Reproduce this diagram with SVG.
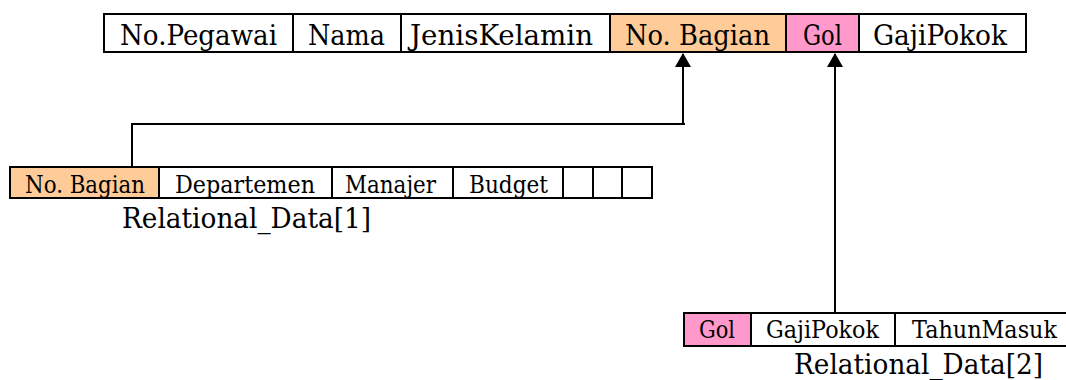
<svg xmlns="http://www.w3.org/2000/svg" width="1066" height="380" viewBox="0 0 1066 380">
  <style>
    .cell { fill: #ffffff; stroke: #000000; stroke-width: 2; }
    .key1 { fill: #FFCC99; }
    .key2 { fill: #FF99CC; }
    .edge { fill: none; stroke: #000000; stroke-width: 2; }
    .t { font-family: "DejaVu Serif", "Liberation Serif", serif; fill: #000000; text-anchor: middle; }
    .big { font-size: 28px; }
    .small { font-size: 25px; }
    .tight { font-size: 24px; }
    .label { font-size: 27px; }
    .conn { fill: none; stroke: #000000; stroke-width: 2; }
  </style>
  <defs>
    <marker id="arrow" viewBox="0 0 14 16" refX="13" refY="8" markerWidth="14" markerHeight="16" markerUnits="userSpaceOnUse" orient="auto">
      <path d="M0,0 L14,8 L0,16 Z" fill="#000000"/>
    </marker>
  </defs>
  <rect width="1066" height="380" fill="#ffffff"/>

  <g id="pegawai">
    <rect class="cell" x="104" y="14" width="189" height="38"/>
    <rect class="cell" x="293" y="14" width="108" height="38"/>
    <rect class="cell" x="401" y="14" width="209" height="38"/>
    <rect class="cell key1" x="610" y="14" width="176" height="38"/>
    <rect class="cell key2" x="786" y="14" width="73" height="38"/>
    <rect class="cell" x="859" y="14" width="167" height="38"/>
    <text class="t big" x="198.5" y="45" textLength="157" lengthAdjust="spacingAndGlyphs">No.Pegawai</text>
    <text class="t big" x="346.5" y="45" textLength="77" lengthAdjust="spacingAndGlyphs">Nama</text>
    <text class="t big" x="501.5" y="45" textLength="183" lengthAdjust="spacingAndGlyphs">JenisKelamin</text>
    <text class="t big" x="697.5" y="45" textLength="145" lengthAdjust="spacingAndGlyphs">No. Bagian</text>
    <text class="t big" x="822.5" y="45" textLength="39" lengthAdjust="spacingAndGlyphs">Gol</text>
    <text class="t big" x="940" y="45" textLength="134" lengthAdjust="spacingAndGlyphs">GajiPokok</text>
  </g>

  <g id="relational1">
    <rect class="cell key1" x="10" y="167" width="149" height="31"/>
    <rect class="cell" x="159" y="167" width="173" height="31"/>
    <rect class="cell" x="332" y="167" width="121" height="31"/>
    <rect class="cell" x="453" y="167" width="110" height="31"/>
    <rect class="cell" x="563" y="167" width="30" height="31"/>
    <rect class="cell" x="593" y="167" width="29" height="31"/>
    <rect class="cell" x="622" y="167" width="30" height="31"/>
    <text class="t small" x="85" y="193" textLength="120" lengthAdjust="spacingAndGlyphs">No. Bagian</text>
    <text class="t small" x="245" y="193" textLength="140" lengthAdjust="spacingAndGlyphs">Departemen</text>
    <text class="t small" x="390.5" y="193" textLength="91" lengthAdjust="spacingAndGlyphs">Manajer</text>
    <text class="t small" x="508.5" y="193" textLength="79" lengthAdjust="spacingAndGlyphs">Budget</text>
    <text class="t label" x="246.5" y="228" textLength="249" lengthAdjust="spacingAndGlyphs">Relational_Data[1]</text>
  </g>

  <g id="relational2">
    <rect class="cell key2" x="684" y="313" width="67" height="33"/>
    <rect class="cell" x="751" y="313" width="144" height="33"/>
    <path class="edge" d="M895,313 H1066 M895,346 H1066"/>
    <text class="t small" x="717" y="338" textLength="36" lengthAdjust="spacingAndGlyphs">Gol</text>
    <text class="t small" x="822.5" y="338" textLength="113" lengthAdjust="spacingAndGlyphs">GajiPokok</text>
    <text class="t tight" x="984.5" y="338" textLength="145" lengthAdjust="spacingAndGlyphs">TahunMasuk</text>
    <text class="t label" x="918.5" y="374" textLength="249" lengthAdjust="spacingAndGlyphs">Relational_Data[2]</text>
  </g>

  <g id="connectors">
    <path class="conn" d="M132,167 V124 H685"/>
    <path class="conn" d="M683,124 V54" marker-end="url(#arrow)"/>
    <path class="conn" d="M835,313 V54" marker-end="url(#arrow)"/>
  </g>
</svg>
